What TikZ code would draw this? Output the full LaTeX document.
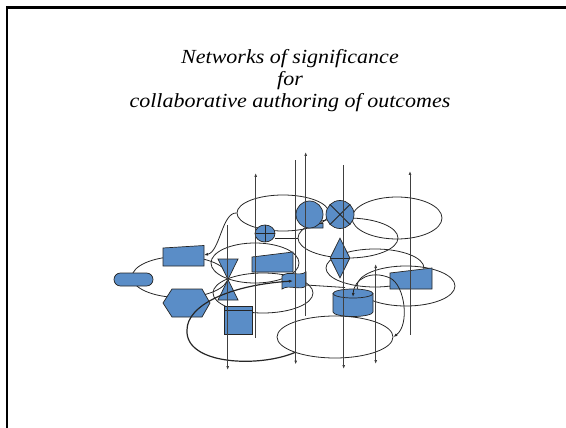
\documentclass[tikz,border=0pt]{standalone}
\usepackage{fontspec}
\setmainfont{Liberation Serif}
\usetikzlibrary{shapes.geometric,shapes.misc,arrows.meta}
\definecolor{boxblue}{RGB}{90,141,199}
\begin{document}
\begin{tikzpicture}[x=1pt,y=-1pt,>={Latex[length=4pt,width=3pt]},
  every node/.style={inner sep=0pt},
  shp/.style={draw=black!85, line width=0.7pt, fill=boxblue},
  ring/.style={ellipse, draw=black!85, line width=0.8pt},
  conn/.style={draw=black!85, line width=0.8pt},
  vline/.style={draw=black!75, line width=0.9pt},
  ttl/.style={font=\fontsize{20}{22}\selectfont\itshape\addfontfeature{FakeStretch=1.1}, anchor=base}]
\useasboundingbox (0,0) rectangle (566,428);
\draw[line width=2.2pt] (7,428) -- (7,7.5) -- (566,7.5);

% title
\node[ttl] (t1) at (290,64) {Networks of significance};
\node[ttl] (t2) at (290,86) {for};
\node[ttl] (t3) at (290,108) {collaborative authoring of outcomes};

% rings
\node[ring, minimum width=92, minimum height=36] (rA) at (283,213) {};
\node[ring, minimum width=90, minimum height=42] (rB) at (397,218) {};
\node[ring, minimum width=100, minimum height=40] (rC) at (348,238) {};
\node[ring, minimum width=98, minimum height=38] (rD) at (375,268) {};
\node[ring, minimum width=98, minimum height=40] (rE) at (406,286) {};
\node[ring, minimum width=116, minimum height=42] (rF) at (335,337) {};
\node[ring, minimum width=96, minimum height=41] (rG) at (180,277) {};
\node[ring, minimum width=88, minimum height=40] (rH) at (255,263) {};
\node[ring, minimum width=100, minimum height=40] (rI) at (263,293) {};

% shapes
\node[shp, rounded rectangle, minimum width=39, minimum height=13] (term) at (133.5,279.5) {};
\draw[shp] (163,248) -- (204,245.5) -- (204,266) -- (163,266) -- cycle;
\coordinate (inL) at (204,255);
\draw[shp] (163,303) -- (172,289) -- (202,289) -- (210,303) -- (202,317) -- (172,317) -- cycle;
\draw[shp] (218,259) -- (238,259) -- (218,300) -- (238,300) -- cycle;
\draw[shp] (224,306) rectangle (252,334);
\draw[conn] (224,310) -- (252,310);
\node[shp, ellipse, minimum width=20, minimum height=17] (orC) at (265,233.5) {};
\draw[conn] (orC.north) -- (orC.south) (orC.west) -- (orC.east);
\draw[shp] (252,257) -- (293,252) -- (293,272) -- (252,272) -- cycle;
\draw[shp] (282,276) .. controls (288,270) and (299,277) .. (306,272) -- (306,286) .. controls (300,291) and (289,284) .. (282,289) -- cycle;
\coordinate (tape) at (293,281);
\coordinate (tapeE) at (306,285);
\draw[shp] (309.5,228) -- (323,228) -- (323,223.5) -- (318,223.5) -- cycle;
\node[shp, circle, minimum size=27] (seq) at (309.5,214.5) {};
\node[shp, circle, minimum size=28] (sumC) at (340,214.5) {};
\draw[conn] (sumC.north west) -- (sumC.south east) (sumC.north east) -- (sumC.south west);
\node[shp, diamond, minimum width=20, minimum height=40] (sort) at (340,258) {};
\draw[conn] (sort.west) -- (sort.east);
\draw[shp] (333,293.5) -- (333,312) arc[start angle=180, end angle=0, x radius=20, y radius=4.5] -- (373,293.5) -- cycle;
\node[shp, ellipse, minimum width=40, minimum height=9] (disk) at (353,293.5) {};
\coordinate (diskT) at (353,297);
\draw[shp] (390,273) -- (432,268) -- (432,289) -- (390,289) -- cycle;
\coordinate (inR) at (390,278);

% connectors
\coordinate (loopS) at (296,352);
\coordinate (dk) at (345,287.5);
\draw[conn,->] (rA.west) .. controls (222,212) and (220,252) .. (inL);
\draw[conn] ([yshift=-4.5pt]orC.east) -- (rC.west);
\draw[conn] (tapeE) -- (dk);
\draw[conn,line width=1.2pt,->] (loopS) .. controls (260,368) and (185,365) .. (187,330) .. controls (187,305) and (230,285) .. (tape);
\draw[conn,<->] (diskT) .. controls (354,278) and (372,270) .. (inR) .. controls (405,285) and (410,325) .. (rF.east);

% vertical lines
\foreach \x/\top/\bot/\tip [count=\i] in {227.7/225/370/->, 255.7/173/338/<-, 295.7/160.5/364.5/->,
    305.7/152/316/<-, 343.7/165/369/->, 375.7/264/364/<->, 410/171/335/<-}{
  \coordinate (t\i) at (\x,\top);
  \coordinate (b\i) at (\x,\bot);
  \draw[vline,\tip] (t\i) -- (b\i);
}
\end{tikzpicture}
\end{document}
